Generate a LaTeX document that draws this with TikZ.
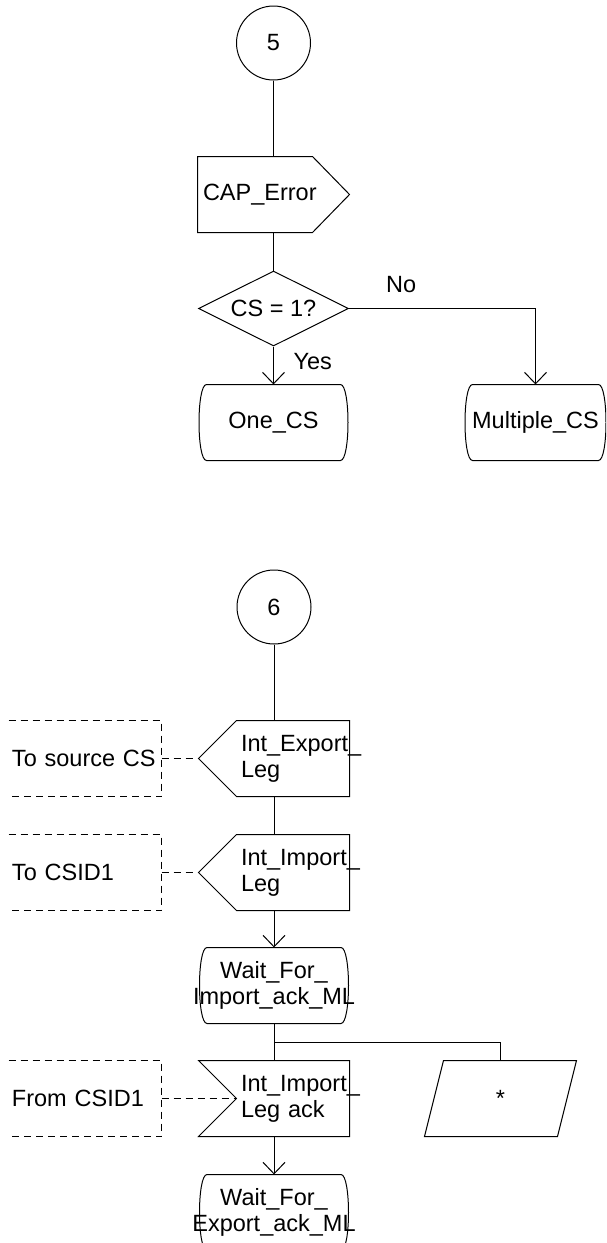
\documentclass[tikz,border=0pt]{standalone}
\usepackage{fontspec}
\setmainfont{Liberation Sans}
\usetikzlibrary{arrows.meta,positioning,shapes.geometric,calc}
\tikzset{
  sdlfont/.style={font=\fontsize{23.5}{26}\selectfont},
  cmt/.style={sdlfont, minimum width=152pt, minimum height=75pt, text width=146pt, align=left, inner sep=0pt},
  cmtline/.style={dash pattern=on 7pt off 5pt}
}

\begin{document}
\begin{tikzpicture}[x=1pt, y=1pt, line width=1pt, >={Straight Barb[length=11.5pt,width=22pt]},
  conn/.style={draw, circle, minimum size=74pt, inner sep=0pt, sdlfont},
  outsig/.style={minimum width=151pt, minimum height=75pt, text width=141pt, align=left, inner sep=0pt, sdlfont},
  sigbody/.style={minimum width=112pt, minimum height=75pt, text width=104pt, align=left, inner sep=0pt, sdlfont},
  sdlstate/.style={minimum width=148pt, minimum height=75pt, align=center, inner sep=0pt, sdlfont},
  asterbox/.style={minimum width=151pt, minimum height=75pt, inner sep=0pt, sdlfont},
  lbl/.style={inner sep=0pt, sdlfont}]
\useasboundingbox (0,0) rectangle (606,-1243);
\clip (0,0) rectangle (606,-1243);

% connector 5
\node[conn] (c5) at (273.5,-43) {5};
\node[outsig, below=76pt of c5] (caperr) {CAP\_Error};
\draw (caperr.north west) -- ($(caperr.north east)+(-37,0)$) -- (caperr.east)
  -- ($(caperr.south east)+(-37,0)$) -- (caperr.south west) -- cycle;
\node[draw, diamond, shape aspect=2, minimum width=150pt, minimum height=75pt, inner sep=0pt, sdlfont,
  below=38pt of caperr] (dec) {CS = 1?};
\node[sdlstate, below=38pt of dec] (onecs) {One\_CS};
\node[sdlstate, minimum width=140pt, right=117pt of onecs] (multcs) {Multiple\_CS};
\draw (c5) -- (caperr);
\draw (caperr) -- (dec);
\draw[->] (dec) -- node[lbl, anchor=west, xshift=19.5pt, yshift=4pt] {Yes} (onecs);
\draw[->] (dec.east) -| node[lbl, pos=0.14, anchor=south, yshift=15pt] {No} (multcs.north);

% connector 6
\node[conn] (c6) at (274,-607) {6};
\node[sigbody, below=76pt of c6, xshift=19pt] (expleg) {Int\_Export\_\\Leg};
\node[sigbody, below=38pt of expleg] (impleg) {Int\_Import\_\\Leg};
\node[sdlstate, below=37pt of impleg, xshift=-19pt] (waitimp) {Wait\_For\_\\Import\_ack\_ML};
\node[sigbody, below=37pt of waitimp, xshift=19pt] (impack) {Int\_Import\_\\Leg ack};
\node[sdlstate, below=38pt of impack, xshift=-19pt] (waitexp) {Wait\_For\_\\Export\_ack\_ML};
\node[cmt, left=75pt of expleg] (tosrc) {To source CS};
\node[cmt, left=75pt of impleg] (tocsid) {To CSID1};
\node[cmt, left=75pt of impack] (fromcsid) {From CSID1};
\node[asterbox, right=75pt of impack] (anyin) {*};

% signal outlines
\foreach \s in {expleg,impleg}
  \draw (\s.north west) -- (\s.north east) -- (\s.south east) -- (\s.south west)
    -- ($(\s.west)+(-38,0)$) coordinate (\s-tip) -- cycle;
\draw ($(impack.north west)+(-38,0)$) -- (impack.north east) -- (impack.south east)
  -- ($(impack.south west)+(-38,0)$) -- (impack.west) -- cycle;
\draw ($(anyin.north west)+(19,0)$) -- (anyin.north east) -- ($(anyin.south east)+(-19,0)$)
  -- (anyin.south west) -- cycle;

% state outlines
\foreach \n/\w in {onecs/74, multcs/70, waitimp/74, waitexp/74}
  \draw ($(\n.north)+({-\w+7},0)$) -- ($(\n.north)+({\w-7},0)$)
    .. controls ($(\n.north)+({\w+3},0)$) and ($(\n.south)+({\w+3},0)$) .. ($(\n.south)+({\w-7},0)$)
    -- ($(\n.south)+({-\w+7},0)$)
    .. controls ($(\n.south)+({-\w-3},0)$) and ($(\n.north)+({-\w-3},0)$) .. ($(\n.north)+({-\w+7},0)$) -- cycle;

% comment boxes
\foreach \b in {tosrc,tocsid,fromcsid}
  \draw[cmtline] (\b.north west) -- (\b.north east) -- (\b.south east) -- (\b.south west);
\draw[cmtline] (tosrc.east) -- (expleg-tip);
\draw[cmtline] (tocsid.east) -- (impleg-tip);
\draw[cmtline] (fromcsid.east) -- (impack.west);

% flow lines
\draw (c6) -- (c6 |- expleg.north);
\draw (c6 |- expleg.south) -- (c6 |- impleg.north);
\draw[->] (waitimp.north |- impleg.south) -- (waitimp.north);
\draw (waitimp.south) -- coordinate (fork) (waitimp.south |- impack.north);
\draw (fork) -| (anyin.north);
\draw[->] (waitexp.north |- impack.south) -- (waitexp.north);
\end{tikzpicture}
\end{document}
